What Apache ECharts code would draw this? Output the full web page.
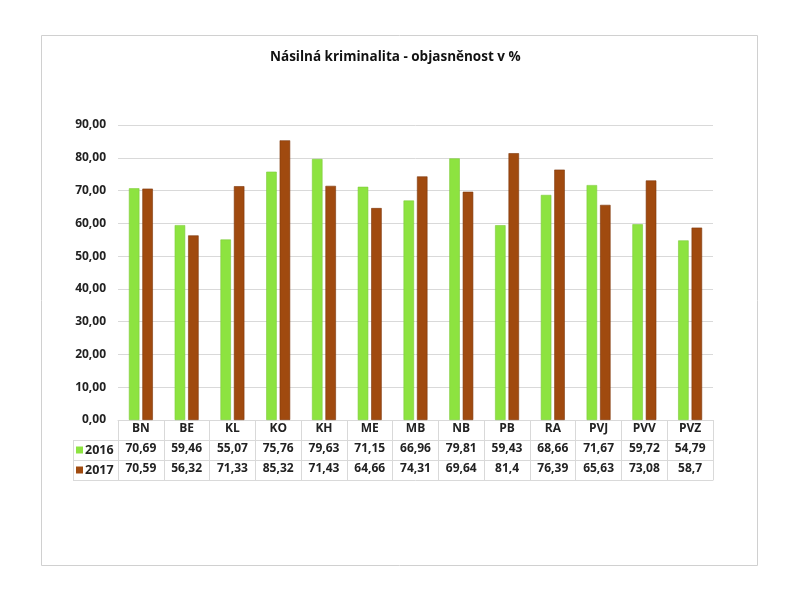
<!DOCTYPE html>
<html>
<head>
<meta charset="utf-8">
<script src="https://cdn.jsdelivr.net/npm/echarts@6/dist/echarts.min.js"></script>
<style>
html,body{margin:0;padding:0;background:#fff;}
#c{width:800px;height:600px;}
</style>
</head>
<body>
<div id="c"></div>
<script>
const categories = ['BN','BE','KL','KO','KH','ME','MB','NB','PB','RA','PVJ','PVV','PVZ'];
const values2016 = [70.69,59.46,55.07,75.76,79.63,71.15,66.96,79.81,59.43,68.66,71.67,59.72,54.79];
const values2017 = [70.59,56.32,71.33,85.32,71.43,64.66,74.31,69.64,81.4,76.39,65.63,73.08,58.7];
const seriesNames = ['2016','2017'];
const titleText = 'Násilná kriminalita - objasněnost v %';

const FONT = '"Open Sans", sans-serif';
const GRID = {left:118, right:87, top:125, bottom:180};
const ROW = 20;
const lineCol = '#d9d9d9';
const fmtNum = v => String(v).replace('.', ',');

const chart = echarts.init(document.getElementById('c'));

function tableAxis(offset, vals) {
  return {
    type:'category', data:categories, gridIndex:0, position:'bottom', offset:offset,
    axisLine:{show:true, lineStyle:{color:lineCol, width:1}},
    axisTick:{show:false}, splitLine:{show:false},
    axisLabel:{show: !!vals, margin:3, fontFamily:FONT, fontWeight:'bold', fontSize:12, color:'#222',
      formatter:(v,i)=> vals ? fmtNum(vals[i]) : ''}
  };
}

chart.setOption({
  animation:false,
  backgroundColor:'#fff',
  title:{text:titleText, left:265, top:45,
    textStyle:{fontFamily:FONT, fontWeight:'bold', fontSize:13.5, color:'#111'}},
  legend:{data:seriesNames, orient:'vertical', left:76, top:443, itemGap:6,
    itemWidth:7, itemHeight:7, icon:'rect', itemStyle:{borderWidth:0}, padding:0,
    textStyle:{fontFamily:FONT, fontWeight:'bold', fontSize:12.5, lineHeight:14, color:'#222', padding:[0,0,0,-3]}},
  grid:GRID,
  xAxis:[
    {type:'category', data:categories, position:'bottom',
      axisLine:{show:true, lineStyle:{color:lineCol}},
      axisTick:{show:true, length:ROW*3, lineStyle:{color:lineCol}},
      axisLabel:{margin:3, fontFamily:FONT, fontWeight:'bold', fontSize:12, color:'#222'}},
    tableAxis(ROW, values2016),
    tableAxis(ROW*2, values2017),
    tableAxis(ROW*3, null)
  ],
  yAxis:{type:'value', min:0, max:90, interval:10,
    axisLine:{show:false}, axisTick:{show:false},
    splitLine:{lineStyle:{color:lineCol}},
    axisLabel:{margin:12, fontFamily:FONT, fontWeight:'bold', fontSize:12, color:'#222',
      formatter:v=>v.toFixed(2).replace('.', ',')}},
  series:[
    {name:seriesNames[0], type:'bar', data:values2016, barWidth:10.5, barGap:'28%',
      itemStyle:{color:'#8DE340', borderColor:'#7DCB3A', borderWidth:0.6}},
    {name:seriesNames[1], type:'bar', data:values2017, barWidth:10.5,
      itemStyle:{color:'#A04A0F', borderColor:'#7E380B', borderWidth:0.6}}
  ]
});

// decorations: outer frame and left legend column borders of the data table
const x0 = chart.convertToPixel({xAxisIndex:0}, categories[0]);
const halfBand = (chart.convertToPixel({xAxisIndex:0}, categories[1]) - x0) / 2;
const left = x0 - halfBand;
const yZero = chart.convertToPixel({yAxisIndex:0}, 0);
const colLeft = 73;
const els = [
  {type:'rect', shape:{x:41.5, y:35.5, width:716, height:530}, style:{fill:'none', stroke:'#d0d0d0', lineWidth:1}, z:-1}
];
for (let r = 1; r <= 3; r++) {
  els.push({type:'line', shape:{x1:colLeft, y1:yZero+ROW*r+0.5, x2:left, y2:yZero+ROW*r+0.5}, style:{stroke:lineCol, lineWidth:1}});
}
els.push({type:'line', shape:{x1:colLeft+0.5, y1:yZero+ROW, x2:colLeft+0.5, y2:yZero+ROW*3}, style:{stroke:lineCol, lineWidth:1}});
chart.setOption({graphic:{elements:els}});
</script>
</body>
</html>
